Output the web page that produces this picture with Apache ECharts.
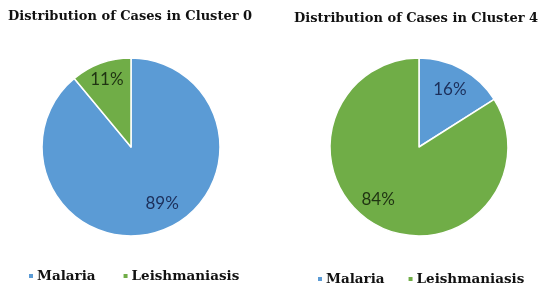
<!DOCTYPE html>
<html><head><meta charset="utf-8">
<script src="https://cdn.jsdelivr.net/npm/echarts@6/dist/echarts.min.js"></script>
<style>html,body{margin:0;padding:0;background:#fff}#c{width:550px;height:295px}</style>
</head><body><div id="c"></div>
<script>
const categories = ['Malaria', 'Leishmaniasis'];
const cluster0Values = [89, 11];
const cluster4Values = [16, 84];
const titles = ['Distribution of Cases in Cluster 0', 'Distribution of Cases in Cluster 4'];

const colors = ['#5B9BD5', '#70AD47'];
const labelColors = ['#1c2f5a', '#1f3312'];
const serif = '"DejaVu Serif", "Liberation Serif", serif';

function pieSeries(values, center, offsets) {
  return {
    type: 'pie', radius: 89, center: center, startAngle: 90, clockwise: true,
    avoidLabelOverlap: false, silent: true,
    itemStyle: { borderColor: '#fff', borderWidth: 1.5 },
    label: { show: true, position: 'inside', formatter: '{d}%', fontFamily: 'Lato, "Liberation Sans", sans-serif', fontSize: 17 },
    labelLine: { show: false },
    data: categories.map((n, i) => ({
      name: n, value: values[i],
      itemStyle: { color: colors[i] },
      label: { color: labelColors[i], offset: offsets[i] }
    }))
  };
}

const chart = echarts.init(document.getElementById('c'), null, { renderer: 'canvas' });
chart.setOption({
  backgroundColor: '#fff',
  animation: false,
  title: [
    { text: titles[0], left: 3, top: 5, textStyle: { fontFamily: serif, fontSize: 13, fontWeight: 'bold', color: '#111' } },
    { text: titles[1], left: 289, top: 7, textStyle: { fontFamily: serif, fontSize: 13, fontWeight: 'bold', color: '#111' } }
  ],
  legend: [
    { data: categories, left: 22, top: 264, icon: 'rect', itemWidth: 6, itemHeight: 6, itemGap: 26,
      textStyle: { fontFamily: serif, fontSize: 13.5, fontWeight: 'bold', color: '#111', padding: [0, 0, 0, -2] } },
    { data: categories, left: 311, top: 267, icon: 'rect', itemWidth: 6, itemHeight: 6, itemGap: 22,
      textStyle: { fontFamily: serif, fontSize: 13.5, fontWeight: 'bold', color: '#111', padding: [0, 0, 0, -2] } }
  ],
  series: [
    pieSeries(cluster0Values, [131, 147], [[15, 12], [-8, -23]]),
    pieSeries(cluster4Values, [419, 147], [[8, -16], [-18, 11]])
  ]
});
</script></body></html>
